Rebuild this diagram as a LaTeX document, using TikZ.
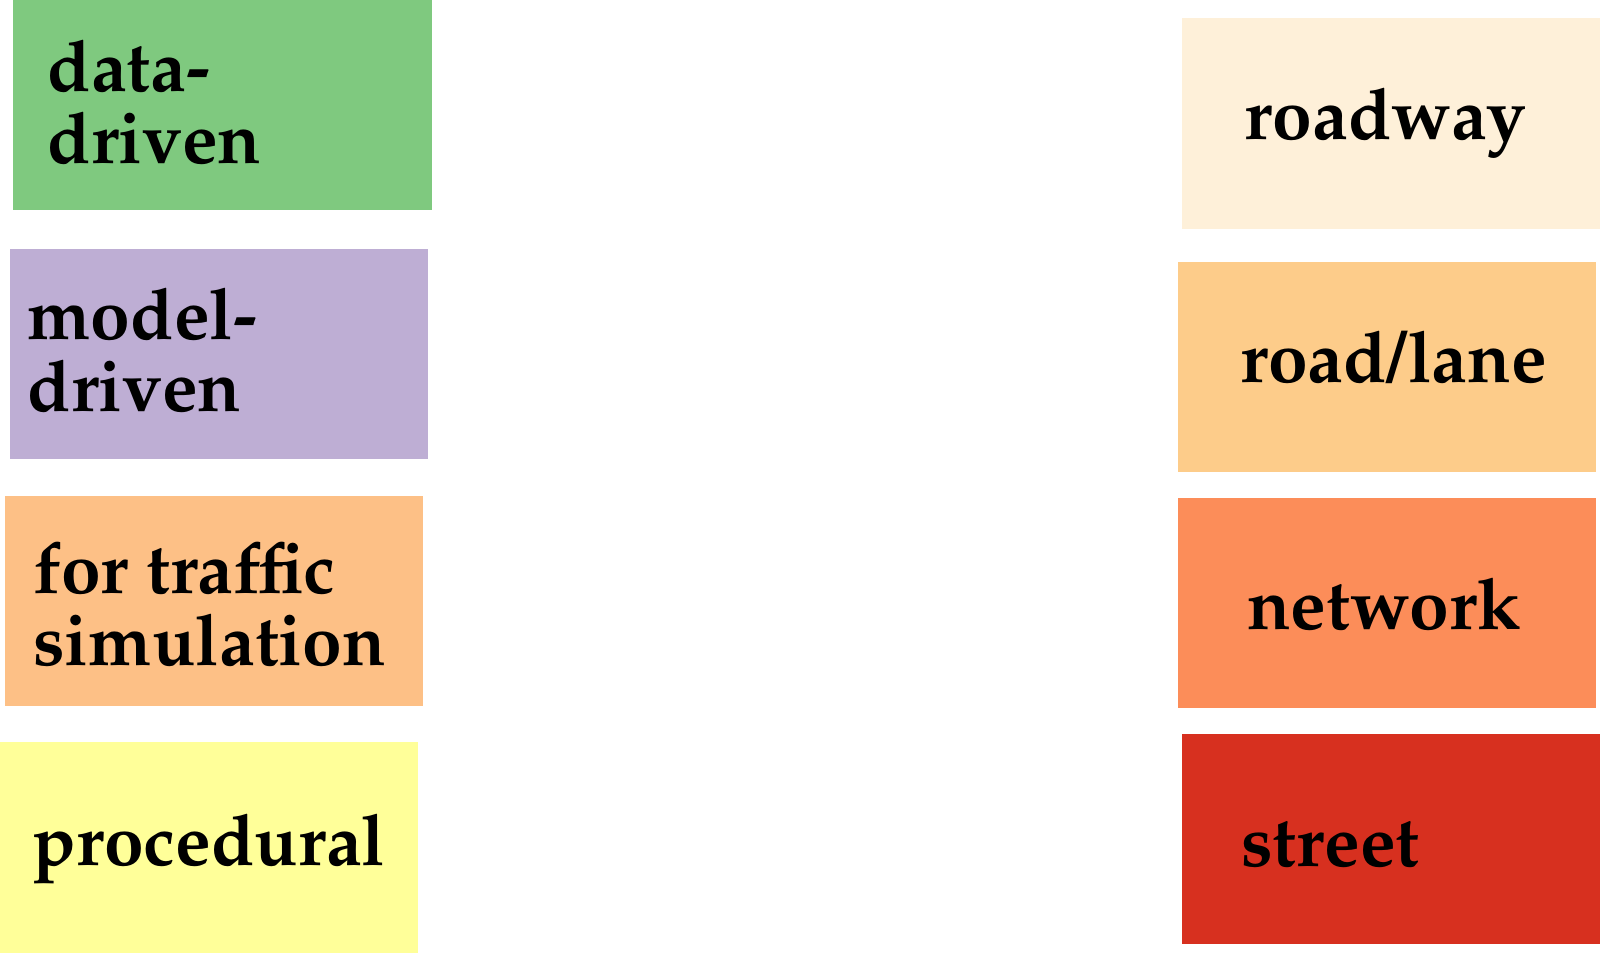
\documentclass[tikz,border=0pt]{standalone}
\usepackage[T1]{fontenc}
\renewcommand{\rmdefault}{ppl}
\definecolor{cdata}{HTML}{7FC97F}
\definecolor{cmodel}{HTML}{BEAED4}
\definecolor{csim}{HTML}{FDC086}
\definecolor{cproc}{HTML}{FFFF99}
\definecolor{croadway}{HTML}{FEF0D9}
\definecolor{croadlane}{HTML}{FDCC8A}
\definecolor{cnetwork}{HTML}{FC8D59}
\definecolor{cstreet}{HTML}{D7301F}
\tikzset{
  box/.style={draw=none, fill=#1},
  lbl/.style={anchor=base west, inner sep=0pt, align=left,
    font=\fontsize{53.5}{53.6}\selectfont\bfseries\rmfamily}
}
\begin{document}
\begin{tikzpicture}[x=0.75pt,y=-0.75pt]
\useasboundingbox (0,0) rectangle (1600,953);
% left boxes
\path[box=cdata]  (13.3,0) rectangle (431.7,210) coordinate (bdata);
\path[box=cmodel] (10,249) rectangle (427.7,459.3) coordinate (bmodel);
\path[box=csim]   (5,495.7) rectangle (422.7,706) coordinate (bsim);
\path[box=cproc]  (0,742.3) rectangle (417.7,953) coordinate (bproc);
% right boxes
\path[box=croadway]  (1182,18.3) rectangle (1600,228.7) coordinate (broadway);
\path[box=croadlane] (1178.3,261.7) rectangle (1596,471.7) coordinate (broadlane);
\path[box=cnetwork]  (1178.3,498.3) rectangle (1596,708.3) coordinate (bnetwork);
\path[box=cstreet]   (1182.3,734) rectangle (1600,944) coordinate (bstreet);
% labels (two-line labels are anchored at the baseline of their last line)
\node[lbl] (tdata) at (47.3,163) {data-\\driven};
\node[lbl] (tmodel) at (27.3,411) {model-\\driven};
\node[lbl] (tsim) at (33,665) {for traffic\\simulation};
\node[lbl] (tproc) at (32.5,865) {procedural};
\node[lbl] (troadway) at (1244.7,139.3) {roadway};
\node[lbl] (troadlane) at (1240,382.7) {road/lane};
\node[lbl] (tnetwork) at (1247,629.3) {network};
\node[lbl] (tstreet) at (1241,866.7) {street};
\end{tikzpicture}
\end{document}
